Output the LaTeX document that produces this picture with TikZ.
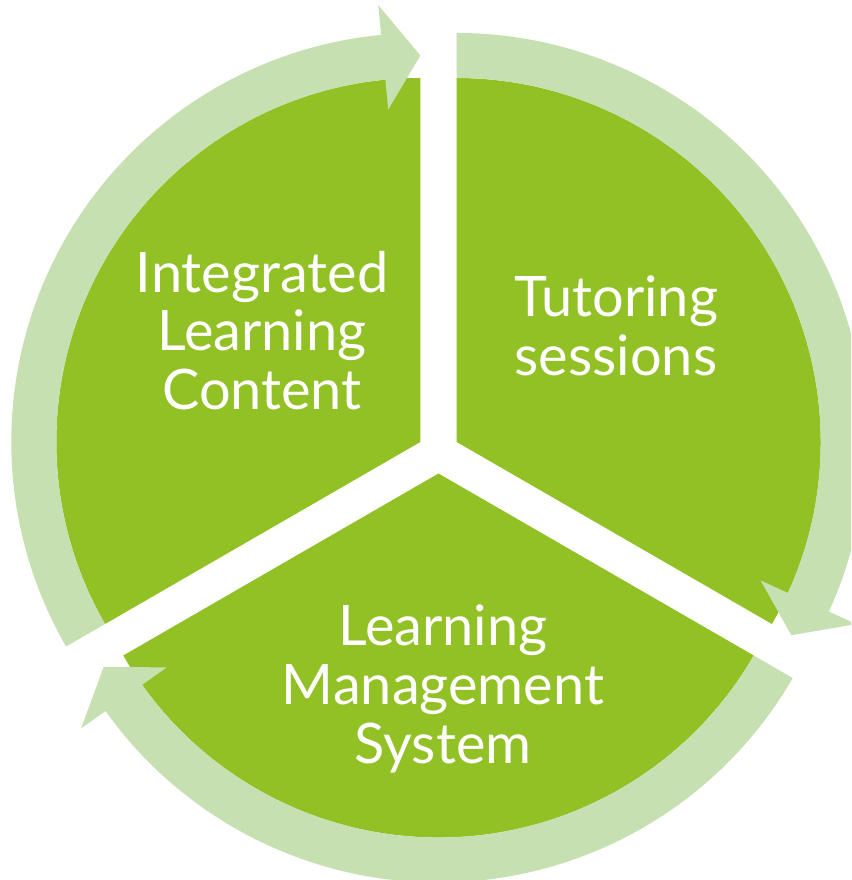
\documentclass[tikz,border=0pt]{standalone}
\usepackage{fontspec}
\setmainfont{Lato}
\definecolor{piegreen}{RGB}{146,193,38}
\definecolor{ringgreen}{RGB}{198,224,178}
\begin{document}
\begin{tikzpicture}[x=0.75pt, y=0.75pt, line join=round,
    segtext/.style={text=white, align=center, inner sep=0pt, font=\fontsize{41.9}{44}\selectfont}]
  \useasboundingbox (-438.5,-427.5) rectangle (412.5,452.5);
  \clip (-438.5,-427.5) rectangle (412.5,452.5);
  % sector centres, pushed out along the bisectors
  \coordinate (L) at (-18.2,10.5);
  \coordinate (T) at (18.2,10.5);
  \coordinate (B) at (0,-21);
  % pie
  \foreach \c/\s/\e in {L/90/210, T/-30/90, B/210/330}{
    \fill[piegreen] (\c) -- ++(\s:364) arc[start angle=\s, end angle=\e, radius=364] -- cycle;
  }
  % ring arrows, clockwise
  \foreach \c/\s/\e in {L/210/90, T/90/-30, B/330/210}{
    \begin{scope}[shift={(\c)}]
      \pgfmathsetmacro\h{\e+5.5}
      \fill[ringgreen] (\s:409) arc[start angle=\s, end angle=\h, radius=409] -- (\h:439) -- (\e:386.5)
        -- (\h:334) -- (\h:364) arc[start angle=\h, end angle=\s, radius=364] -- cycle;
    \end{scope}
  }
  \node[segtext] (content) at (-176.5,122) {Integrated\\Learning\\Content};
  \node[segtext] (tutoring) at (177.5,126.5) {Tutoring\\sessions};
  \node[segtext] (lms) at (4.5,-236.5) {Learning\\Management\\System};
\end{tikzpicture}
\end{document}
